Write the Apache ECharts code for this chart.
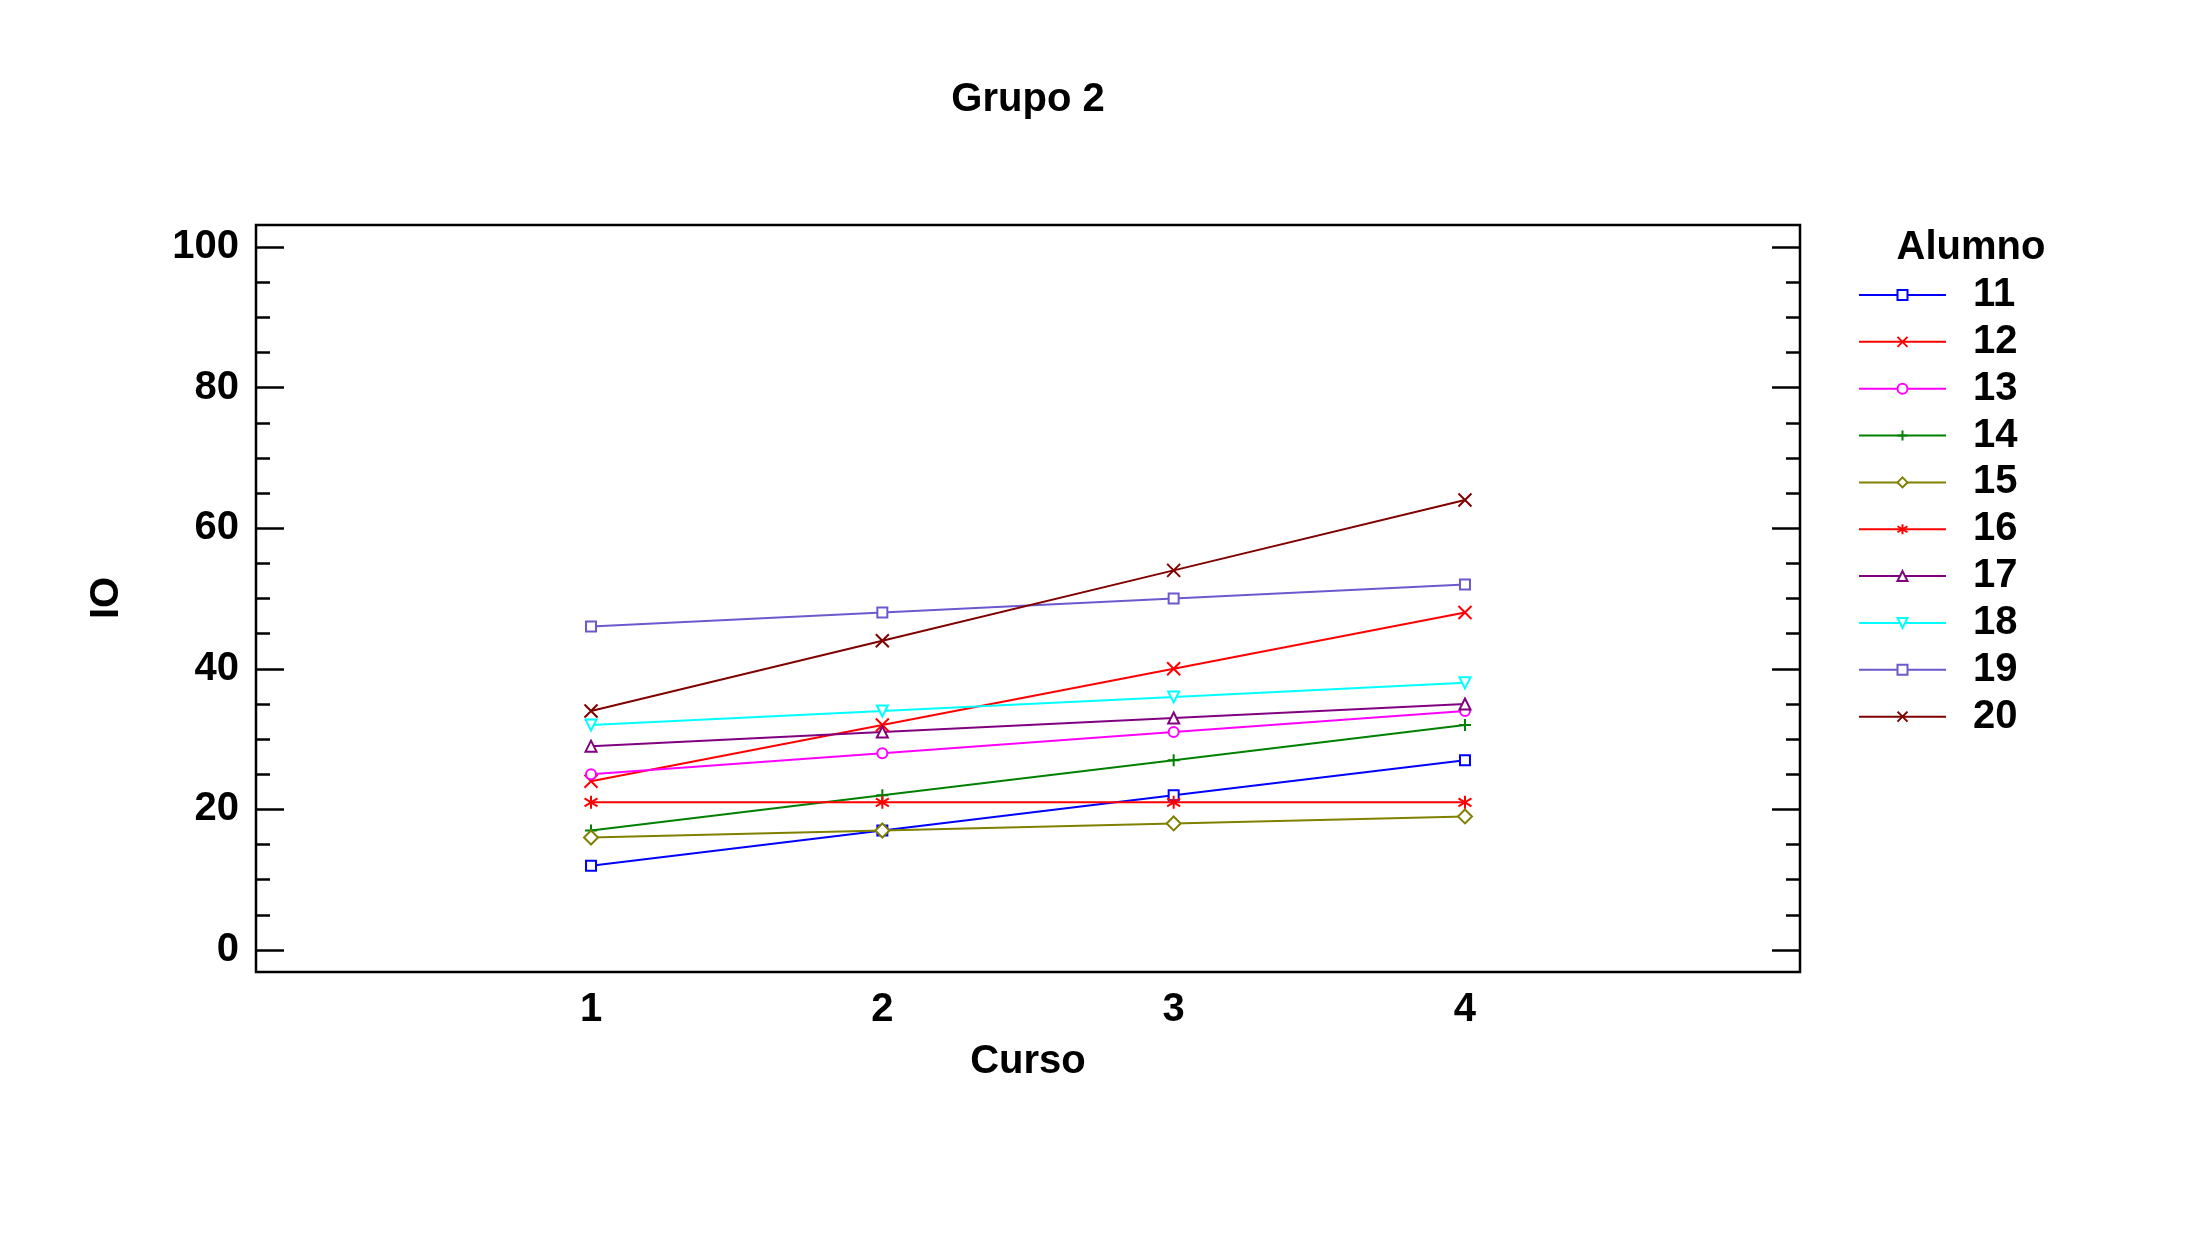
<!DOCTYPE html>
<html>
<head>
<meta charset="utf-8">
<script src="https://cdn.jsdelivr.net/npm/echarts@6/dist/echarts.min.js"></script>
<style>
html,body{margin:0;padding:0;background:#fff;}
#chart{width:2208px;height:1242px;}
</style>
</head>
<body>
<div id="chart"></div>
<script>
// ---- data ----
const cursos = [1, 2, 3, 4];
const alumnos = ['11', '12', '13', '14', '15', '16', '17', '18', '19', '20'];
const a11 = [12, 17, 22, 27];
const a12 = [24, 32, 40, 48];
const a13 = [25, 28, 31, 34];
const a14 = [17, 22, 27, 32];
const a15 = [16, 17, 18, 19];
const a16 = [21, 21, 21, 21];
const a17 = [29, 31, 33, 35];
const a18 = [32, 34, 36, 38];
const a19 = [46, 48, 50, 52];
const a20 = [34, 44, 54, 64];
const yTicks = [0, 20, 40, 60, 80, 100];
const yMinorTicks = [5, 10, 15, 25, 30, 35, 45, 50, 55, 65, 70, 75, 85, 90, 95];

const values = [a11, a12, a13, a14, a15, a16, a17, a18, a19, a20];
const colors = ['#0000ff', '#ff0000', '#ff00ff', '#008000', '#808000', '#ff0000', '#800080', '#00ffff', '#6a5acd', '#800000'];
const symbols = [
  'emptyRect',
  'path://M0,0L10,10M0,10L10,0',
  'emptyCircle',
  'path://M5,0L5,10M0,5L10,5',
  'emptyDiamond',
  'path://M5,0L5,10M1,2L9,8M1,8L9,2',
  'emptyTriangle',
  'emptyTriangle',
  'emptyRect',
  'path://M0,0L10,10M0,10L10,0'
];
const symSizes = [10, 13, 10, 12, 14, 13, 11, 11, 10, 13];
const rotates = [0, 0, 0, 0, 0, 0, 0, 180, 0, 0];

const FONT = 'Liberation Sans';
const series = alumnos.map((name, i) => ({
  name: name,
  type: 'line',
  data: cursos.map((c, j) => [c, values[i][j]]),
  symbol: symbols[i],
  symbolRotate: rotates[i],
  symbolSize: symSizes[i],
  showAllSymbol: true,
  lineStyle: { color: colors[i], width: 2 },
  itemStyle: { color: colors[i], borderColor: colors[i], borderWidth: 2 },
  emphasis: { disabled: true },
  animation: false
}));

const yBase = {
  type: 'value', min: -3.13, max: 103.13, offset: 0,
  splitLine: { show: false },
  axisLine: { show: false }
};

const chart = echarts.init(document.getElementById('chart'));
chart.setOption({
  backgroundColor: '#ffffff',
  animation: false,
  grid: { left: 256, right: 408, top: 225, bottom: 270, show: true, borderColor: '#000', borderWidth: 2.5, backgroundColor: 'transparent' },
  xAxis: {
    type: 'value', min: -0.15, max: 5.15,
    splitLine: { show: false },
    axisLine: { show: false },
    axisTick: { show: false },
    axisLabel: { customValues: cursos, fontSize: 40, fontWeight: 'bold', fontFamily: FONT, color: '#000', margin: 18 }
  },
  yAxis: [
    Object.assign({}, yBase, {
      position: 'left',
      axisTick: { show: false },
      axisLabel: { customValues: yTicks, fontSize: 40, fontWeight: 'bold', fontFamily: FONT, color: '#000', margin: 17, padding: [6, 0, 0, 0] }
    }),
    Object.assign({}, yBase, {
      position: 'left',
      axisTick: { inside: true, length: 28, lineStyle: { color: '#000', width: 2.5 }, customValues: yTicks },
      axisLabel: { show: false }
    }),
    Object.assign({}, yBase, {
      position: 'left',
      axisTick: { inside: true, length: 14, lineStyle: { color: '#000', width: 2.5 }, customValues: yMinorTicks },
      axisLabel: { show: false }
    }),
    Object.assign({}, yBase, {
      position: 'right',
      axisTick: { inside: true, length: 28, lineStyle: { color: '#000', width: 2.5 }, customValues: yTicks },
      axisLabel: { show: false }
    }),
    Object.assign({}, yBase, {
      position: 'right',
      axisTick: { inside: true, length: 14, lineStyle: { color: '#000', width: 2.5 }, customValues: yMinorTicks },
      axisLabel: { show: false }
    })
  ],
  legend: {
    orient: 'vertical',
    left: 1858,
    top: 275,
    padding: 0,
    itemWidth: 87,
    itemHeight: 12.5,
    itemGap: 6.85,
    selectedMode: false,
    data: alumnos,
    textStyle: { fontSize: 40, fontWeight: 'bold', fontFamily: FONT, color: '#000', lineHeight: 40, padding: [0, 0, 0, 22] }
  },
  graphic: [
    { type: 'text', x: 1028, y: 100, style: { text: 'Grupo 2', font: 'bold 40px "Liberation Sans"', fill: '#000', align: 'center', verticalAlign: 'middle' } },
    { type: 'text', x: 1028, y: 1062, style: { text: 'Curso', font: 'bold 40px "Liberation Sans"', fill: '#000', align: 'center', verticalAlign: 'middle' } },
    { type: 'text', x: 107, y: 598, rotation: Math.PI / 2, style: { text: 'IO', font: 'bold 40px "Liberation Sans"', fill: '#000', align: 'center', verticalAlign: 'middle' } },
    { type: 'text', x: 1971, y: 248, style: { text: 'Alumno', font: 'bold 40px "Liberation Sans"', fill: '#000', align: 'center', verticalAlign: 'middle' } }
  ],
  series: series
});
</script>
</body>
</html>
